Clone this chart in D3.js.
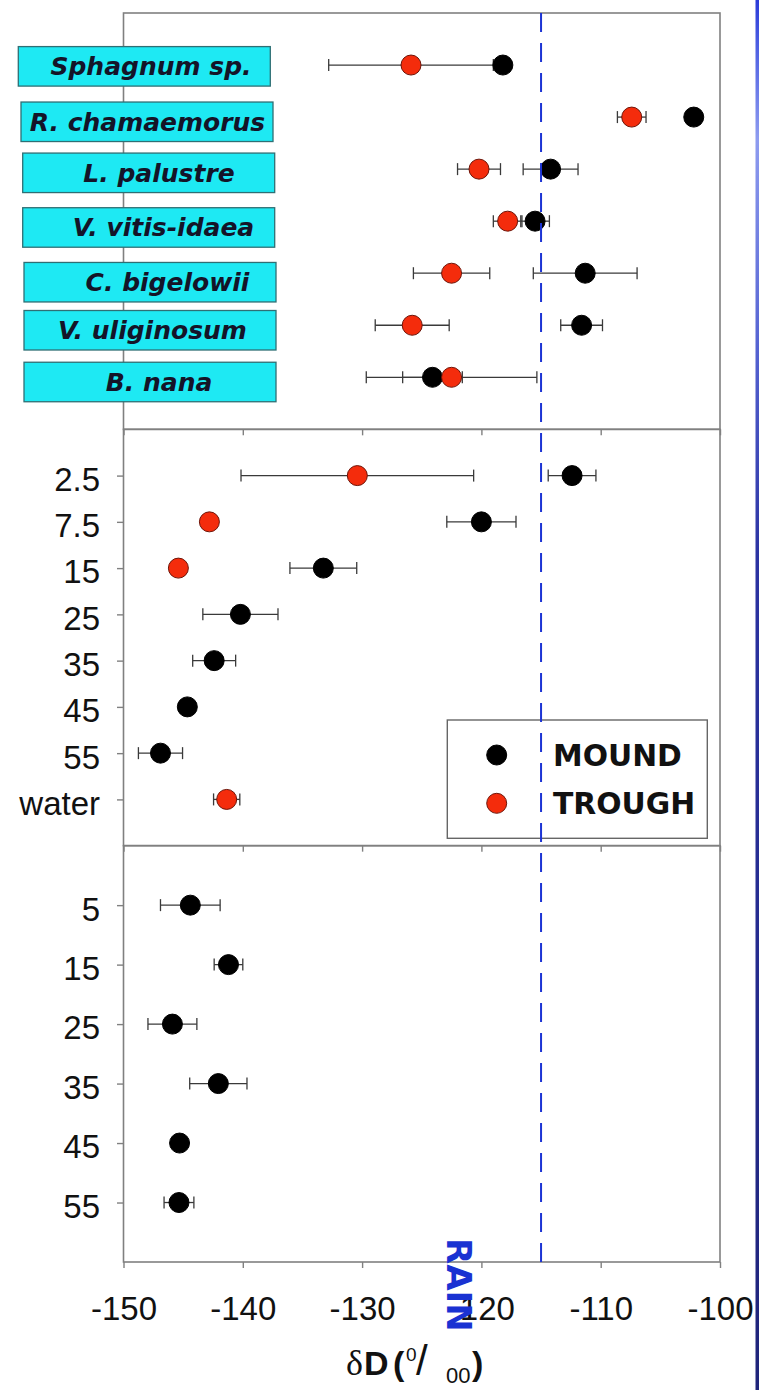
<!DOCTYPE html>
<html>
<head>
<meta charset="utf-8">
<script src="https://cdn.jsdelivr.net/npm/d3@7"></script>
<style>
  html, body { margin: 0; padding: 0; background: #fff; }
  svg { display: block; }
</style>
</head>
<body>
<svg id="chart" width="759" height="1390"></svg>
<script>
// ---- Data: deuterium (δD, ‰) of plants, soil water and deeper soil ----
const species = ["Sphagnum sp.", "R. chamaemorus", "L. palustre", "V. vitis-idaea",
                 "C. bigelowii", "V. uliginosum", "B. nana"];
const speciesMound      = [-118.2, -102.2, -114.2, -115.5, -111.3, -111.6, -124.1];
const speciesMoundErr   = [0.6, 0, 2.3, 1.2, 4.35, 1.75, 2.5];
const speciesTrough     = [-125.9, -107.4, -120.2, -117.8, -122.5, -125.8, -122.5];
const speciesTroughErr  = [6.9, 1.2, 1.8, 1.2, 3.2, 3.1, 7.15];

const soilDepths        = ["2.5", "7.5", "15", "25", "35", "45", "55", "water"];
const soilMound         = [-112.4, -120.0, -133.25, -140.2, -142.4, -144.65, -146.9, null];
const soilMoundErr      = [2.0, 2.9, 2.8, 3.15, 1.8, 0, 1.85, null];
const soilTrough        = [-130.4, -142.8, -145.4, null, null, null, null, -141.35];
const soilTroughErr     = [9.75, 0, 0, null, null, null, null, 1.1];

const deepDepths        = ["5", "15", "25", "35", "45", "55"];
const deepMound         = [-144.4, -141.2, -145.9, -142.05, -145.3, -145.35];
const deepMoundErr      = [2.5, 1.2, 2.05, 2.4, 0, 1.25];

const xTicks    = [-150, -140, -130, -120, -110, -100];
const rainValue = -115;
const legendItems = ["MOUND", "TROUGH"];

// ---- Layout ----
const W = 759, H = 1390;
const frame = { left: 123.5, right: 720, top: 13, bottom: 1262 };
const colors = { mound: "#000000", trough: "#f42c0c", troughEdge: "#6e1408",
                 axis: "#808080", bar: "#3a3a3a", rain: "#1c34d4", cyan: "#1ee9f3" };
// name-box placement per species row: left edge, vertical nudge, text nudge
const boxLayout = [
  { left: 18.3, dy: 1.3, tx: 6.7 },
  { left: 21.0, dy: 4.7, tx: 0.5 },
  { left: 22.7, dy: 3.7, tx: 10.3 },
  { left: 22.7, dy: 6.3, tx: 14.8 },
  { left: 24.0, dy: 9.0, tx: 17.5 },
  { left: 24.0, dy: 5.0, tx: 2.5 },
  { left: 24.0, dy: 4.7, tx: 9.0 }
];
const boxW = 252, boxH = 39.5;

const svg = d3.select("#chart");
svg.append("rect").attr("width", W).attr("height", H).attr("fill", "#fff");

const x = d3.scaleLinear().domain([-150, -100]).range([frame.left, frame.right]);
const panelH = (frame.bottom - frame.top) / 3;

const panels = [
  { cats: species, labels: false, series: [
      { kind: "mound", vals: speciesMound, errs: speciesMoundErr },
      { kind: "trough", vals: speciesTrough, errs: speciesTroughErr } ] },
  { cats: soilDepths, labels: true, series: [
      { kind: "mound", vals: soilMound, errs: soilMoundErr },
      { kind: "trough", vals: soilTrough, errs: soilTroughErr } ] },
  { cats: deepDepths, labels: true, series: [
      { kind: "mound", vals: deepMound, errs: deepMoundErr } ] }
];
panels.forEach((p, i) => {
  p.y0 = frame.top + i * panelH;
  p.y1 = p.y0 + panelH;
  p.y = d3.scalePoint().domain(p.cats).range([p.y0, p.y1]).padding(1);
});

const tickFont = "'Liberation Sans', Arial, sans-serif";

// ---- Panel frames and axes ----
const gAxes = svg.append("g");
panels.forEach((p, i) => {
  gAxes.append("rect")
    .attr("x", frame.left).attr("y", p.y0)
    .attr("width", frame.right - frame.left).attr("height", p.y1 - p.y0)
    .attr("fill", "none").attr("stroke", colors.axis).attr("stroke-width", 1.6);

  const xa = d3.axisBottom(x).tickValues(xTicks).tickSize(6).tickPadding(29)
    .tickFormat(i < 2 ? "" : d => String(d));
  const gx = gAxes.append("g").attr("transform", `translate(0,${p.y1})`).call(xa);
  gx.select(".domain").remove();
  gx.selectAll(".tick line").attr("stroke", colors.axis).attr("stroke-width", 1.4);
  gx.selectAll(".tick text")
    .attr("font-family", tickFont).attr("font-size", 33).attr("fill", "#111");

  const ya = d3.axisLeft(p.y).tickSize(6.5).tickPadding(17);
  if (!p.labels) ya.tickFormat("");
  const gy = gAxes.append("g").attr("transform", `translate(${frame.left},0)`).call(ya);
  gy.select(".domain").remove();
  gy.selectAll(".tick line").attr("stroke", colors.axis).attr("stroke-width", 1.4);
  gy.selectAll(".tick text")
    .attr("font-family", tickFont).attr("font-size", 33).attr("fill", "#111")
    .attr("dy", "0.45em");
});

// ---- Species name boxes ----
const p0 = panels[0];
const gBoxes = svg.append("g");
const boxes = gBoxes.selectAll("g").data(species).join("g")
  .attr("transform", (d, i) =>
    `translate(${boxLayout[i].left},${p0.y(d) + boxLayout[i].dy - boxH / 2})`);
boxes.append("rect")
  .attr("width", boxW).attr("height", boxH)
  .attr("fill", colors.cyan).attr("stroke", "#2f6f74").attr("stroke-width", 1.3);
boxes.append("text")
  .attr("x", (d, i) => boxW / 2 + boxLayout[i].tx)
  .attr("y", boxH / 2).attr("dy", "0.36em")
  .attr("text-anchor", "middle")
  .attr("font-family", "'DejaVu Sans', sans-serif")
  .attr("font-weight", "bold").attr("font-style", "italic")
  .attr("font-size", 25).attr("fill", "#141428")
  .text(d => d);

// ---- Error bars ----
const gBars = svg.append("g").attr("stroke", colors.bar).attr("stroke-width", 1.3);
const capH = 6;
panels.forEach(p => {
  p.series.forEach(s => {
    const pts = p.cats.map((c, i) => ({ c, v: s.vals[i], e: s.errs[i] }))
      .filter(d => d.v != null && d.e > 0);
    gBars.selectAll(null).data(pts).join("line")
      .attr("x1", d => x(d.v - d.e)).attr("x2", d => x(d.v + d.e))
      .attr("y1", d => p.y(d.c)).attr("y2", d => p.y(d.c));
    [-1, 1].forEach(sgn => {
      gBars.selectAll(null).data(pts).join("line")
        .attr("x1", d => x(d.v + sgn * d.e)).attr("x2", d => x(d.v + sgn * d.e))
        .attr("y1", d => p.y(d.c) - capH).attr("y2", d => p.y(d.c) + capH);
    });
  });
});

// ---- Markers (mound first, trough on top) ----
const gPts = svg.append("g");
["mound", "trough"].forEach(kind => {
  panels.forEach(p => {
    p.series.filter(s => s.kind === kind).forEach(s => {
      const pts = p.cats.map((c, i) => ({ c, v: s.vals[i] })).filter(d => d.v != null);
      gPts.selectAll(null).data(pts).join("circle")
        .attr("cx", d => x(d.v)).attr("cy", d => p.y(d.c)).attr("r", 10)
        .attr("fill", kind === "mound" ? colors.mound : colors.trough)
        .attr("stroke", kind === "mound" ? colors.mound : colors.troughEdge)
        .attr("stroke-width", 1);
    });
  });
});

// ---- Legend ----
const gLeg = svg.append("g").attr("transform", "translate(447.3,720)");
gLeg.append("rect").attr("width", 260).attr("height", 118.3)
  .attr("fill", "#fff").attr("stroke", "#666").attr("stroke-width", 1.4);
const legRows = gLeg.selectAll("g").data(legendItems).join("g")
  .attr("transform", (d, i) => `translate(0,${35 + i * 48.3})`);
legRows.append("circle").attr("cx", 49.4).attr("r", 10)
  .attr("fill", (d, i) => i === 0 ? colors.mound : colors.trough)
  .attr("stroke", (d, i) => i === 0 ? colors.mound : colors.troughEdge);
legRows.append("text").attr("x", 105.7).attr("y", 0).attr("dy", "0.36em")
  .attr("font-family", "'DejaVu Sans', sans-serif").attr("font-weight", "bold")
  .attr("font-size", 29.8).attr("fill", "#111")
  .text(d => d);

// ---- Rain reference line ----
svg.append("line")
  .attr("x1", x(rainValue)).attr("x2", x(rainValue))
  .attr("y1", frame.top).attr("y2", frame.bottom)
  .attr("stroke", colors.rain).attr("stroke-width", 2)
  .attr("stroke-dasharray", "19,11");
svg.append("text")
  .attr("transform", "translate(447,1238) rotate(90)")
  .attr("font-family", "'DejaVu Sans', sans-serif").attr("font-weight", "bold")
  .attr("font-size", 34).attr("fill", "#1a32d2")
  .text("RAIN");

// ---- X-axis title: δD (per mil, written as 0/00) ----
const title = svg.append("text").attr("y", 1375).attr("fill", "#111")
  .attr("font-family", "'Liberation Sans', Arial, sans-serif");
title.append("tspan").attr("x", 346).attr("font-family", "'Liberation Serif', serif")
  .attr("font-size", 36).text("δ");
title.append("tspan").attr("x", 364).attr("font-weight", "bold").attr("font-size", 34).text("D");
title.append("tspan").attr("x", 393).attr("font-weight", "bold").attr("font-size", 34).text("(");
title.append("tspan").attr("x", 406).attr("dy", -14).attr("font-size", 19).text("0");
title.append("tspan").attr("x", 416).attr("dy", 14).attr("font-size", 42).text("/");
title.append("tspan").attr("x", 446).attr("dy", 8).attr("font-size", 22).text("00");
title.append("tspan").attr("x", 472).attr("dy", -8).attr("font-weight", "bold").attr("font-size", 34).text(")");

// ---- Slide edge strip on the right ----
const grad = svg.append("defs").append("linearGradient")
  .attr("id", "edge").attr("x1", 0).attr("x2", 0).attr("y1", 0).attr("y2", 1);
[[0, "#2a3ad8"], [0.03, "#4a5ce2"], [0.1, "#8e9cf0"], [0.25, "#5563d2"],
 [0.4, "#2b33a2"], [1, "#1f247a"]].forEach(([o, c]) =>
  grad.append("stop").attr("offset", o).attr("stop-color", c));
svg.append("rect").attr("x", 755.5).attr("y", 0).attr("width", 3.5).attr("height", H)
  .attr("fill", "url(#edge)");
</script>
</body>
</html>
